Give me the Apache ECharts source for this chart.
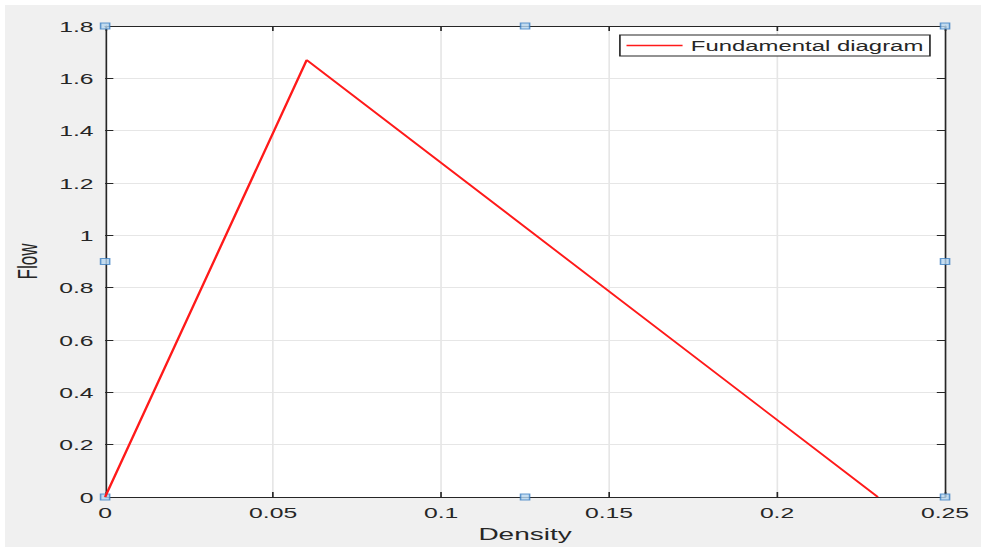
<!DOCTYPE html>
<html>
<head>
<meta charset="utf-8">
<script src="https://cdn.jsdelivr.net/npm/echarts@6/dist/echarts.min.js"></script>
<style>
  html, body { margin: 0; padding: 0; background: #ffffff; width: 981px; height: 548px; overflow: hidden; }
  #bg { position: absolute; left: 5px; top: 5px; width: 976px; height: 542px; background: #f0f0f0; }
  #chart { position: absolute; left: 0; top: 0; width: 595px; height: 548px; transform-origin: 0 0; transform: scaleX(1.6487); }
</style>
</head>
<body>
<div id="bg"></div>
<div id="chart"></div>
<script>
// Data
const density = [0, 0.06, 0.23];
const flow = [0, 1.67, 0];
const seriesName = 'Fundamental diagram';
const xTicks = { min: 0, max: 0.25, interval: 0.05 };
const yTicks = { min: 0, max: 1.8, interval: 0.2 };
// selection handles (axes edit-mode markers) in data coordinates
const handleX = [0, 0.125, 0.25, 0, 0.25, 0, 0.125, 0.25];
const handleY = [1.8, 1.8, 1.8, 0.9, 0.9, 0, 0, 0];

const font = 'Liberation Sans, Arial, Helvetica, sans-serif';
const axisColor = '#262626';
const gridColor = '#e6e6e6';
const lineColor = '#ff1a1a';

const chart = echarts.init(document.getElementById('chart'), null, { renderer: 'svg' });

function mkX(pos, showLabels, showSplit) {
  return {
    type: 'value', position: pos, min: xTicks.min, max: xTicks.max, interval: xTicks.interval,
    name: showLabels ? 'Density' : '', nameLocation: 'middle', nameGap: 29,
    nameTextStyle: { color: axisColor, fontFamily: font, fontSize: 17 },
    axisLine: { show: true, onZero: false, lineStyle: { color: axisColor, width: 1 } },
    axisTick: { show: true, inside: true, length: 5, lineStyle: { color: axisColor, width: 1 } },
    axisLabel: { show: showLabels, color: axisColor, fontFamily: font, fontSize: 15, margin: 8 },
    splitLine: { show: showSplit, lineStyle: { color: gridColor, width: 1 } }
  };
}
function mkY(pos, showLabels, showSplit) {
  return {
    type: 'value', position: pos, min: yTicks.min, max: yTicks.max, interval: yTicks.interval,
    name: showLabels ? 'Flow' : '', nameLocation: 'middle', nameGap: 37,
    nameTextStyle: { color: axisColor, fontFamily: font, fontSize: 17 },
    axisLine: { show: true, onZero: false, lineStyle: { color: axisColor, width: 1 } },
    axisTick: { show: true, inside: true, length: 5, lineStyle: { color: axisColor, width: 1 } },
    axisLabel: { show: showLabels, color: axisColor, fontFamily: font, fontSize: 15, margin: 7 },
    splitLine: { show: showSplit, lineStyle: { color: gridColor, width: 1 } }
  };
}

chart.setOption({
  animation: false,
  backgroundColor: 'transparent',
  color: [lineColor],
  grid: { left: 63.1, right: 21.8, top: 26, bottom: 51, show: true, backgroundColor: '#ffffff', borderWidth: 0 },
  legend: {
    show: true, data: [{ name: seriesName, itemStyle: { color: lineColor } }], left: 376, top: 35,
    padding: [3, 4, 3, 4], icon: 'rect', itemWidth: 34, itemHeight: 1.5,
    backgroundColor: '#ffffff', borderColor: axisColor, borderWidth: 1, borderRadius: 0,
    textStyle: { color: axisColor, fontFamily: font, fontSize: 14.5, lineHeight: 15 }
  },
  xAxis: [mkX('bottom', true, true), mkX('top', false, false)],
  yAxis: [mkY('left', true, true), mkY('right', false, false)],
  series: [
    {
      name: seriesName, type: 'line', xAxisIndex: 0, yAxisIndex: 0,
      data: density.map((d, i) => [d, flow[i]]),
      showSymbol: false, symbol: 'none',
      lineStyle: { color: lineColor, width: 1.5 }, itemStyle: { color: lineColor }, z: 3
    },
    {
      name: 'handles', type: 'scatter', xAxisIndex: 0, yAxisIndex: 0,
      data: handleX.map((x, i) => [x, handleY[i]]),
      symbol: 'rect', symbolSize: [5.5, 6],
      itemStyle: { color: '#b7d6ef', borderColor: '#3d7fc2', borderWidth: 1 },
      silent: true, clip: false, z: 2
    }
  ]
});
</script>
</body>
</html>
